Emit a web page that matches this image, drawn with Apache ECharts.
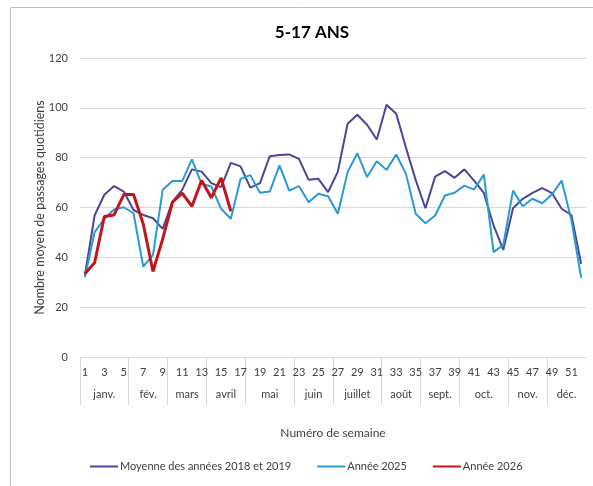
<!DOCTYPE html>
<html><head><meta charset="utf-8">
<script src="https://cdn.jsdelivr.net/npm/echarts@6/dist/echarts.min.js"></script>
<style>html,body{margin:0;padding:0;background:#fff}#c{width:593px;height:486px}</style>
</head><body><div id="c"></div>
<script>
const weeks = Array.from({length:52},(_,i)=>String(i+1));
const months = ['janv.','fév.','mars','avril','mai','juin','juillet','août','sept.','oct.','nov.','déc.'];
const monthCenters = [2.5,7,11,15,19.5,24,28.5,33,37,41.5,46,50];
const monthBounds = [0,5,9,13,17,22,26,31,35,39,44,48];
const yTicks = [0,20,40,60,80,100,120];
const moy1819 = [32.7,56.8,65.1,68.6,66.4,59,57,55.7,51.4,62.4,67.1,75.3,74.4,69.8,68.2,77.9,76.5,68,69.8,80.6,81.1,81.3,79.5,71.1,71.5,66.2,74.4,93.6,97.2,93.2,87.3,101.2,97.6,84,71,59.7,72.4,74.6,71.9,75.3,70.8,65.9,52.8,43,59.7,63.5,65.9,67.8,65.8,59.5,57,37.4];
const annee2025 = [32,50.1,55.5,59.2,60.1,57.7,36.3,41,67.1,70.6,70.6,79.3,69.5,68.4,59.5,55.5,71.5,73,65.9,66.4,76.9,66.8,68.6,62.1,65.5,64.5,57.5,74.2,81.8,72.2,78.6,75.1,81.3,73.5,57.5,53.7,56.8,64.8,65.9,68.8,67.2,73.2,42.1,45,66.8,60.5,63.5,61.7,65.2,70.8,55,31.8];
const annee2026 = [33.4,37.8,56.4,57,65.2,65.2,53.4,34.3,47.4,62.1,65.8,60.5,70.8,63.9,71.9,58.5];

const FONT = 'Lato';
const C1 = '#4b4697', C2 = '#2a9ad6', C3 = '#c0161c';
const chart = echarts.init(document.getElementById('c'), null, {renderer:'canvas'});
chart.setOption({
  animation:false,
  backgroundColor:'#fff',
  textStyle:{fontFamily:FONT},
  graphic:[{type:'rect',shape:{x:10.5,y:7.5,width:620,height:520},style:{fill:'none',stroke:'#bfbfbf',lineWidth:1},silent:true,z:-1}],
  title:{text:'5-17 ANS',left:307,top:19,textAlign:'center',textStyle:{fontFamily:FONT,fontSize:17,fontWeight:'bold',color:'#000'}},
  legend:{bottom:9,left:85,itemWidth:28,itemHeight:2,itemGap:26,
    textStyle:{fontFamily:FONT,fontSize:11,color:'#404040',padding:[0,0,0,-3]},
    data:[{name:'Moyenne des années 2018 et 2019',icon:'rect',itemStyle:{color:C1}},
          {name:'Année 2025',icon:'rect',itemStyle:{color:C2}},
          {name:'Année 2026',icon:'rect',itemStyle:{color:C3}}]},
  grid:{left:80,right:7,top:58,bottom:129,containLabel:false},
  xAxis:[{
    type:'category',data:weeks,boundaryGap:true,position:'bottom',
    name:'Numéro de semaine',nameLocation:'middle',nameGap:70,nameMoveOverlap:false,
    nameTextStyle:{fontFamily:FONT,fontSize:12,color:'#404040'},
    axisLine:{show:true,lineStyle:{color:'#d9d9d9',width:1}},
    axisTick:{show:false},
    axisLabel:{interval:1,margin:10,fontSize:11,color:'#404040',fontFamily:FONT},
    splitLine:{show:false}
  },{
    type:'value',min:0,max:52,position:'bottom',offset:0,
    axisLine:{show:false},
    axisTick:{show:true,customValues:monthBounds,length:48,inside:false,lineStyle:{color:'#d9d9d9',width:1}},
    axisLabel:{show:true,customValues:monthCenters,margin:32,fontSize:11,color:'#404040',fontFamily:FONT,
      formatter:function(v){const i=monthCenters.indexOf(v);return i>=0?months[i]:'';}},
    splitLine:{show:false}
  }],
  yAxis:{type:'value',min:0,max:120,interval:20,
    name:'Nombre moyen de passages quotidiens',nameLocation:'middle',nameGap:34,nameRotate:90,nameMoveOverlap:false,
    nameTextStyle:{fontFamily:FONT,fontSize:12.5,color:'#404040'},
    axisLine:{show:false},axisTick:{show:false},
    axisLabel:{margin:12,fontSize:11,color:'#404040',fontFamily:FONT,
      formatter:function(v){return yTicks.indexOf(v)>=0?String(v):'';}},
    splitLine:{lineStyle:{color:'#d9d9d9',width:1}}
  },
  series:[
    {name:'Moyenne des années 2018 et 2019',type:'line',data:moy1819,symbol:'none',xAxisIndex:0,
      lineStyle:{color:C1,width:2},itemStyle:{color:C1},z:2},
    {name:'Année 2025',type:'line',data:annee2025,symbol:'none',xAxisIndex:0,
      lineStyle:{color:C2,width:2},itemStyle:{color:C2},z:3},
    {name:'Année 2026',type:'line',data:annee2026,symbol:'none',xAxisIndex:0,
      lineStyle:{color:C3,width:3},itemStyle:{color:C3},z:4}
  ]
});
</script></body></html>
